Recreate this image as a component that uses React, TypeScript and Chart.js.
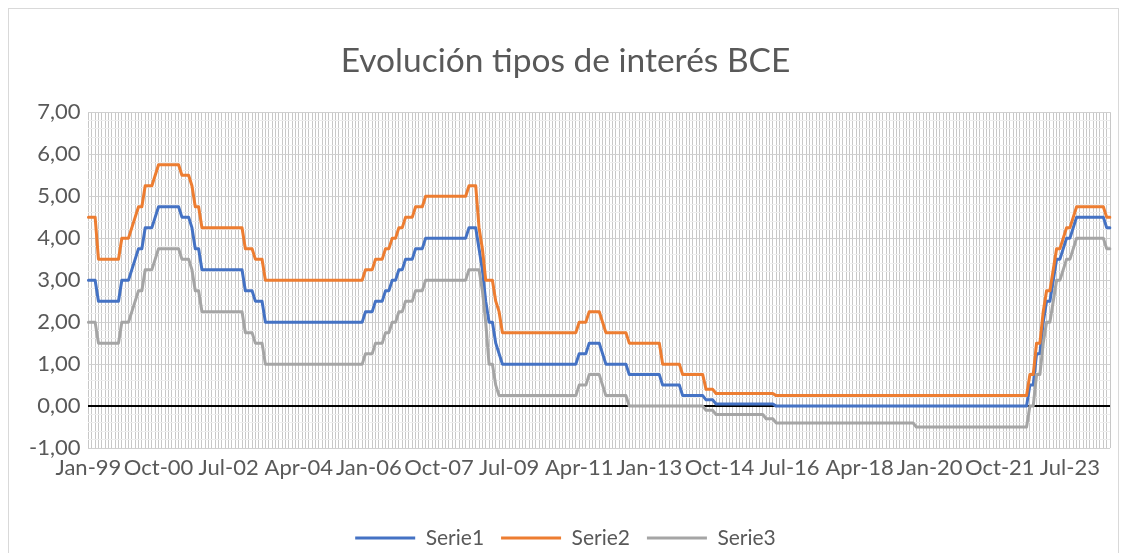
import { useEffect, useRef } from 'react';
import { Chart, registerables } from 'chart.js';

Chart.register(...registerables);

const monthNames = ['Jan', 'Feb', 'Mar', 'Apr', 'May', 'Jun', 'Jul', 'Aug', 'Sep', 'Oct', 'Nov', 'Dec'];
const years = [1999, 2000, 2001, 2002, 2003, 2004, 2005, 2006, 2007, 2008, 2009, 2010, 2011, 2012, 2013, 2014, 2015, 2016, 2017, 2018, 2019, 2020, 2021, 2022, 2023, 2024];
const seriesNames = ['Serie1', 'Serie2', 'Serie3'];
const tickEvery = 21;
const yTickLabels = ['-1,00', '0,00', '1,00', '2,00', '3,00', '4,00', '5,00', '6,00', '7,00'];

// Serie1: monthly values Jan-99 .. Jul-24
const serie1: number[] = [
  3, 3, 3, 2.5, 2.5, 2.5, 2.5, 2.5, 2.5, 2.5, 3, 3,
  3, 3.25, 3.5, 3.75, 3.75, 4.25, 4.25, 4.25, 4.5, 4.75, 4.75, 4.75,
  4.75, 4.75, 4.75, 4.75, 4.5, 4.5, 4.5, 4.25, 3.75, 3.75, 3.25, 3.25,
  3.25, 3.25, 3.25, 3.25, 3.25, 3.25, 3.25, 3.25, 3.25, 3.25, 3.25, 2.75,
  2.75, 2.75, 2.5, 2.5, 2.5, 2, 2, 2, 2, 2, 2, 2,
  2, 2, 2, 2, 2, 2, 2, 2, 2, 2, 2, 2,
  2, 2, 2, 2, 2, 2, 2, 2, 2, 2, 2, 2.25,
  2.25, 2.25, 2.5, 2.5, 2.5, 2.75, 2.75, 3, 3, 3.25, 3.25, 3.5,
  3.5, 3.5, 3.75, 3.75, 3.75, 4, 4, 4, 4, 4, 4, 4,
  4, 4, 4, 4, 4, 4, 4.25, 4.25, 4.25, 3.75, 3.25, 2.5,
  2, 2, 1.5, 1.25, 1, 1, 1, 1, 1, 1, 1, 1,
  1, 1, 1, 1, 1, 1, 1, 1, 1, 1, 1, 1,
  1, 1, 1, 1.25, 1.25, 1.25, 1.5, 1.5, 1.5, 1.5, 1.25, 1,
  1, 1, 1, 1, 1, 1, 0.75, 0.75, 0.75, 0.75, 0.75, 0.75,
  0.75, 0.75, 0.75, 0.75, 0.5, 0.5, 0.5, 0.5, 0.5, 0.5, 0.25, 0.25,
  0.25, 0.25, 0.25, 0.25, 0.25, 0.15, 0.15, 0.15, 0.05, 0.05, 0.05, 0.05,
  0.05, 0.05, 0.05, 0.05, 0.05, 0.05, 0.05, 0.05, 0.05, 0.05, 0.05, 0.05,
  0.05, 0.05, 0, 0, 0, 0, 0, 0, 0, 0, 0, 0,
  0, 0, 0, 0, 0, 0, 0, 0, 0, 0, 0, 0,
  0, 0, 0, 0, 0, 0, 0, 0, 0, 0, 0, 0,
  0, 0, 0, 0, 0, 0, 0, 0, 0, 0, 0, 0,
  0, 0, 0, 0, 0, 0, 0, 0, 0, 0, 0, 0,
  0, 0, 0, 0, 0, 0, 0, 0, 0, 0, 0, 0,
  0, 0, 0, 0, 0, 0, 0.5, 0.5, 1.25, 1.25, 2, 2.5,
  2.5, 3, 3.5, 3.5, 3.75, 4, 4, 4.25, 4.5, 4.5, 4.5, 4.5,
  4.5, 4.5, 4.5, 4.5, 4.5, 4.25, 4.25,
];

// Serie2
const serie2: number[] = [
  4.5, 4.5, 4.5, 3.5, 3.5, 3.5, 3.5, 3.5, 3.5, 3.5, 4, 4,
  4, 4.25, 4.5, 4.75, 4.75, 5.25, 5.25, 5.25, 5.5, 5.75, 5.75, 5.75,
  5.75, 5.75, 5.75, 5.75, 5.5, 5.5, 5.5, 5.25, 4.75, 4.75, 4.25, 4.25,
  4.25, 4.25, 4.25, 4.25, 4.25, 4.25, 4.25, 4.25, 4.25, 4.25, 4.25, 3.75,
  3.75, 3.75, 3.5, 3.5, 3.5, 3, 3, 3, 3, 3, 3, 3,
  3, 3, 3, 3, 3, 3, 3, 3, 3, 3, 3, 3,
  3, 3, 3, 3, 3, 3, 3, 3, 3, 3, 3, 3.25,
  3.25, 3.25, 3.5, 3.5, 3.5, 3.75, 3.75, 4, 4, 4.25, 4.25, 4.5,
  4.5, 4.5, 4.75, 4.75, 4.75, 5, 5, 5, 5, 5, 5, 5,
  5, 5, 5, 5, 5, 5, 5.25, 5.25, 5.25, 4.25, 3.75, 3,
  3, 3, 2.5, 2.25, 1.75, 1.75, 1.75, 1.75, 1.75, 1.75, 1.75, 1.75,
  1.75, 1.75, 1.75, 1.75, 1.75, 1.75, 1.75, 1.75, 1.75, 1.75, 1.75, 1.75,
  1.75, 1.75, 1.75, 2, 2, 2, 2.25, 2.25, 2.25, 2.25, 2, 1.75,
  1.75, 1.75, 1.75, 1.75, 1.75, 1.75, 1.5, 1.5, 1.5, 1.5, 1.5, 1.5,
  1.5, 1.5, 1.5, 1.5, 1, 1, 1, 1, 1, 1, 0.75, 0.75,
  0.75, 0.75, 0.75, 0.75, 0.75, 0.4, 0.4, 0.4, 0.3, 0.3, 0.3, 0.3,
  0.3, 0.3, 0.3, 0.3, 0.3, 0.3, 0.3, 0.3, 0.3, 0.3, 0.3, 0.3,
  0.3, 0.3, 0.25, 0.25, 0.25, 0.25, 0.25, 0.25, 0.25, 0.25, 0.25, 0.25,
  0.25, 0.25, 0.25, 0.25, 0.25, 0.25, 0.25, 0.25, 0.25, 0.25, 0.25, 0.25,
  0.25, 0.25, 0.25, 0.25, 0.25, 0.25, 0.25, 0.25, 0.25, 0.25, 0.25, 0.25,
  0.25, 0.25, 0.25, 0.25, 0.25, 0.25, 0.25, 0.25, 0.25, 0.25, 0.25, 0.25,
  0.25, 0.25, 0.25, 0.25, 0.25, 0.25, 0.25, 0.25, 0.25, 0.25, 0.25, 0.25,
  0.25, 0.25, 0.25, 0.25, 0.25, 0.25, 0.25, 0.25, 0.25, 0.25, 0.25, 0.25,
  0.25, 0.25, 0.25, 0.25, 0.25, 0.25, 0.75, 0.75, 1.5, 1.5, 2.25, 2.75,
  2.75, 3.25, 3.75, 3.75, 4, 4.25, 4.25, 4.5, 4.75, 4.75, 4.75, 4.75,
  4.75, 4.75, 4.75, 4.75, 4.75, 4.5, 4.5,
];

// Serie3
const serie3: number[] = [
  2, 2, 2, 1.5, 1.5, 1.5, 1.5, 1.5, 1.5, 1.5, 2, 2,
  2, 2.25, 2.5, 2.75, 2.75, 3.25, 3.25, 3.25, 3.5, 3.75, 3.75, 3.75,
  3.75, 3.75, 3.75, 3.75, 3.5, 3.5, 3.5, 3.25, 2.75, 2.75, 2.25, 2.25,
  2.25, 2.25, 2.25, 2.25, 2.25, 2.25, 2.25, 2.25, 2.25, 2.25, 2.25, 1.75,
  1.75, 1.75, 1.5, 1.5, 1.5, 1, 1, 1, 1, 1, 1, 1,
  1, 1, 1, 1, 1, 1, 1, 1, 1, 1, 1, 1,
  1, 1, 1, 1, 1, 1, 1, 1, 1, 1, 1, 1.25,
  1.25, 1.25, 1.5, 1.5, 1.5, 1.75, 1.75, 2, 2, 2.25, 2.25, 2.5,
  2.5, 2.5, 2.75, 2.75, 2.75, 3, 3, 3, 3, 3, 3, 3,
  3, 3, 3, 3, 3, 3, 3.25, 3.25, 3.25, 3.25, 2.75, 2,
  1, 1, 0.5, 0.25, 0.25, 0.25, 0.25, 0.25, 0.25, 0.25, 0.25, 0.25,
  0.25, 0.25, 0.25, 0.25, 0.25, 0.25, 0.25, 0.25, 0.25, 0.25, 0.25, 0.25,
  0.25, 0.25, 0.25, 0.5, 0.5, 0.5, 0.75, 0.75, 0.75, 0.75, 0.5, 0.25,
  0.25, 0.25, 0.25, 0.25, 0.25, 0.25, 0, 0, 0, 0, 0, 0,
  0, 0, 0, 0, 0, 0, 0, 0, 0, 0, 0, 0,
  0, 0, 0, 0, 0, -0.1, -0.1, -0.1, -0.2, -0.2, -0.2, -0.2,
  -0.2, -0.2, -0.2, -0.2, -0.2, -0.2, -0.2, -0.2, -0.2, -0.2, -0.2, -0.3,
  -0.3, -0.3, -0.4, -0.4, -0.4, -0.4, -0.4, -0.4, -0.4, -0.4, -0.4, -0.4,
  -0.4, -0.4, -0.4, -0.4, -0.4, -0.4, -0.4, -0.4, -0.4, -0.4, -0.4, -0.4,
  -0.4, -0.4, -0.4, -0.4, -0.4, -0.4, -0.4, -0.4, -0.4, -0.4, -0.4, -0.4,
  -0.4, -0.4, -0.4, -0.4, -0.4, -0.4, -0.4, -0.4, -0.5, -0.5, -0.5, -0.5,
  -0.5, -0.5, -0.5, -0.5, -0.5, -0.5, -0.5, -0.5, -0.5, -0.5, -0.5, -0.5,
  -0.5, -0.5, -0.5, -0.5, -0.5, -0.5, -0.5, -0.5, -0.5, -0.5, -0.5, -0.5,
  -0.5, -0.5, -0.5, -0.5, -0.5, -0.5, 0, 0, 0.75, 0.75, 1.5, 2,
  2, 2.5, 3, 3, 3.25, 3.5, 3.5, 3.75, 4, 4, 4, 4,
  4, 4, 4, 4, 4, 3.75, 3.75,
];

const categories: string[] = [];
years.forEach((y) => {
  monthNames.forEach((m) => {
    if (categories.length < serie1.length) {
      categories.push(`${m}-${String(y % 100).padStart(2, '0')}`);
    }
  });
});

const FONT = 'Lato';
const TEXT = '#595959';
const colors = ['#4472C4', '#ED7D31', '#A5A5A5'];

export default function App() {
  const ref = useRef<HTMLCanvasElement | null>(null);

  useEffect(() => {
    document.body.style.overflow = 'hidden';
    document.documentElement.style.overflow = 'hidden';
    if (!ref.current) return;
    const values = [serie1, serie2, serie3];
    const chart = new Chart(ref.current, {
      type: 'line',
      data: {
        labels: categories,
        datasets: values.map((v, i) => ({
          label: seriesNames[i],
          data: v,
          borderColor: colors[i],
          backgroundColor: colors[i],
          borderWidth: 3,
          pointRadius: 0,
          pointHoverRadius: 0,
          tension: 0,
          borderJoinStyle: 'round' as const,
          borderCapStyle: 'round' as const,
          fill: false,
          order: 2 - i,
        })),
      },
      options: {
        animation: false,
        responsive: true,
        maintainAspectRatio: false,
        layout: { padding: { left: 12, right: 8, top: 0, bottom: 8.5 } },
        plugins: {
          title: {
            display: true,
            text: 'Evolución tipos de interés BCE',
            color: TEXT,
            font: { family: FONT, size: 33.5, weight: 'normal' },
            padding: { top: 32, bottom: 31 },
          },
          legend: {
            position: 'bottom',
            labels: {
              usePointStyle: true,
              pointStyle: 'line',
              pointStyleWidth: 60,
              color: TEXT,
              font: { family: FONT, size: 21 },
              padding: 17,
              sort: (a: any, b: any) => a.datasetIndex - b.datasetIndex,
            },
          },
          tooltip: { enabled: false },
        },
        scales: {
          x: {
            grid: { color: '#c8c8c8', lineWidth: 1, drawTicks: false },
            border: { display: false },
            ticks: {
              autoSkip: false,
              maxRotation: 0,
              minRotation: 0,
              padding: 7,
              color: TEXT,
              font: { family: FONT, size: 22 },
              callback: (_v: any, i: number) => (i % tickEvery === 0 ? categories[i] : ''),
            },
            afterFit: (s: any) => {
              s.height += 22;
            },
          },
          y: {
            min: -1,
            max: 7,
            ticks: {
              stepSize: 0.2,
              autoSkip: false,
              padding: 8,
              color: TEXT,
              font: { family: FONT, size: 22 },
              callback: (v: any) => {
                const n = Number(v);
                const r = Math.round(n);
                if (Math.abs(n - r) > 1e-6) return '';
                return yTickLabels[r + 1] ?? '';
              },
            },
            grid: {
              drawTicks: false,
              color: (c: any) => {
                const n = c.tick ? c.tick.value : 1;
                const r = Math.round(n);
                if (Math.abs(n) < 1e-6) return '#000000';
                if (Math.abs(n - r) < 1e-6) return '#d0d0d0';
                return '#eeeeee';
              },
              lineWidth: (c: any) => {
                const n = c.tick ? c.tick.value : 1;
                if (Math.abs(n) < 1e-6) return 2;
                return 1;
              },
            },
            border: { display: false },
          },
        },
      },
    });
    return () => chart.destroy();
  }, []);

  return (
    <div
      style={{
        width: 1111,
        height: 560,
        border: '1px solid #d9d9d9',
        boxSizing: 'border-box',
        position: 'relative',
      }}
    >
      <canvas ref={ref} />
    </div>
  );
}
